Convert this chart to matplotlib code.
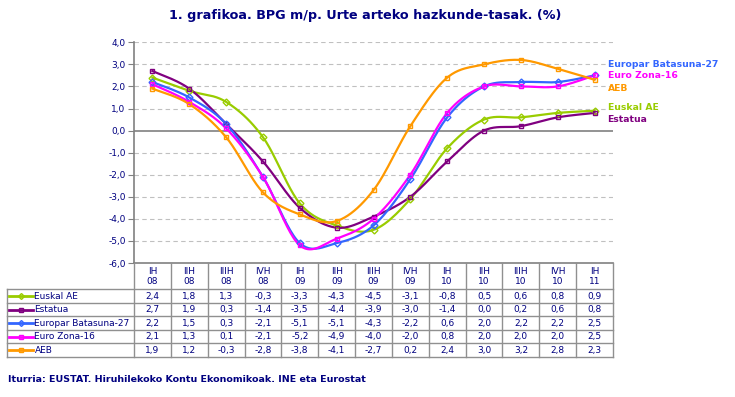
import numpy as np
import matplotlib
matplotlib.use("Agg")
import matplotlib.pyplot as plt
from matplotlib import transforms
from matplotlib.lines import Line2D

quarters = ["IH\n08", "IIH\n08", "IIIH\n08", "IVH\n08", "IH\n09", "IIH\n09", "IIIH\n09",
            "IVH\n09", "IH\n10", "IIH\n10", "IIIH\n10", "IVH\n10", "IH\n11"]
euskal = [2.4, 1.8, 1.3, -0.3, -3.3, -4.3, -4.5, -3.1, -0.8, 0.5, 0.6, 0.8, 0.9]
estatua = [2.7, 1.9, 0.3, -1.4, -3.5, -4.4, -3.9, -3.0, -1.4, 0.0, 0.2, 0.6, 0.8]
eb27 = [2.2, 1.5, 0.3, -2.1, -5.1, -5.1, -4.3, -2.2, 0.6, 2.0, 2.2, 2.2, 2.5]
ez16 = [2.1, 1.3, 0.1, -2.1, -5.2, -4.9, -4.0, -2.0, 0.8, 2.0, 2.0, 2.0, 2.5]
aeb = [1.9, 1.2, -0.3, -2.8, -3.8, -4.1, -2.7, 0.2, 2.4, 3.0, 3.2, 2.8, 2.3]

names = ["Euskal AE", "Estatua", "Europar Batasuna-27", "Euro Zona-16", "AEB"]
series = [euskal, estatua, eb27, ez16, aeb]
colors = ["#99CC00", "#800080", "#3366FF", "#FF00FF", "#FF9900"]
markers = ["D", "s", "D", "s", "s"]

NAVY = "#000080"
W, H = 735, 397


def fy(py):
    # pixel row from top -> figure fraction
    return 1 - py / H


def smooth(y, n=24):
    # excel style smoothed line (bezier through the points)
    x = np.arange(len(y), dtype=float)
    y = np.asarray(y, dtype=float)
    xs, ys = [], []
    for i in range(len(y) - 1):
        i0 = max(i - 1, 0)
        i3 = min(i + 2, len(y) - 1)
        p0 = np.array([x[i], y[i]])
        p3 = np.array([x[i + 1], y[i + 1]])
        b1 = p0 + (p3 - np.array([x[i0], y[i0]])) / 6
        b2 = p3 - (np.array([x[i3], y[i3]]) - p0) / 6
        t = np.linspace(0, 1, n)[:, None]
        pts = (1 - t) ** 3 * p0 + 3 * (1 - t) ** 2 * t * b1 + 3 * (1 - t) * t ** 2 * b2 + t ** 3 * p3
        xs.extend(pts[:, 0])
        ys.extend(pts[:, 1])
    return xs, ys


fig = plt.figure(figsize=(W / 100, H / 100), dpi=100)
fig.patch.set_facecolor("white")

ax_l, ax_r, ax_t, ax_b = 134, 613, 42.3, 263
ax = fig.add_axes([ax_l / W, 1 - ax_b / H, (ax_r - ax_l) / W, (ax_b - ax_t) / H])
n = len(quarters)
ax.set_xlim(-0.5, n - 0.5)
ax.set_ylim(-6, 4)

for v in range(-6, 5):
    if v == 0:
        ax.axhline(0, color="#808080", lw=1.2, zorder=1)
    elif v > -6:
        ax.axhline(v, color="#C0C0C0", lw=0.8, ls=(0, (4, 3)), zorder=1)

x = np.arange(n)
for name, vals, c, m in zip(names, series, colors, markers):
    sx, sy = smooth(vals)
    ax.plot(sx, sy, color=c, lw=1.6, zorder=3)
    ax.plot(x, vals, ls="none", marker=m, ms=3.5, mfc="none", mec=c, mew=1.0, zorder=4)

ax.set_yticks(range(-6, 5))
ax.set_yticklabels([("%.1f" % v).replace(".", ",") for v in range(-6, 5)],
                   color=NAVY, fontsize=6.5)
ax.set_xticks([])
ax.tick_params(axis="y", length=4, color="#808080", pad=2)
for s in ["top", "right"]:
    ax.spines[s].set_visible(False)
ax.spines["left"].set_color("#808080")
ax.spines["bottom"].set_color("#808080")
ax.spines["left"].set_linewidth(1.2)
ax.spines["bottom"].set_linewidth(1.2)

# labels at right end of the lines
side_y = [107.7, 120, 64.3, 76, 88.3]
for name, c, py in zip(names, colors, side_y):
    fig.text(607.5 / W, fy(py), name, color=c, fontsize=6.7, fontweight="bold", va="center")

# data table under the chart
bt = transforms.blended_transform_factory(ax.transData, fig.transFigure)
hdr_bot = 289.3
row_h = 13.5
tab_bot = hdr_bot + row_h * len(names)
grey = "#909090"

for k in range(n + 1):
    xe = k - 0.5
    fig.add_artist(Line2D([xe, xe], [fy(ax_b), fy(tab_bot)], transform=bt, color=grey, lw=1))
for k in range(len(names) + 1):
    py = hdr_bot + k * row_h
    fig.add_artist(Line2D([7 / W, ax_r / W], [fy(py), fy(py)], transform=fig.transFigure,
                          color=grey, lw=1))
fig.add_artist(Line2D([7 / W, 7 / W], [fy(hdr_bot), fy(tab_bot)], transform=fig.transFigure,
                      color=grey, lw=1))

for k, q in enumerate(quarters):
    fig.text(k, fy(276.5), q, transform=bt, ha="center", va="center", color=NAVY,
             fontsize=6.5, linespacing=1.05)

for r, (name, vals, c, m) in enumerate(zip(names, series, colors, markers)):
    yc = fy(hdr_bot + (r + 0.5) * row_h)
    fig.add_artist(Line2D([9 / W, 33 / W], [yc, yc], transform=fig.transFigure, color=c, lw=2))
    fig.add_artist(Line2D([21 / W], [yc], transform=fig.transFigure, ls="none", marker=m,
                          ms=3, mfc="none", mec=c, mew=1))
    fig.text(34.5 / W, yc, name, color=NAVY, fontsize=6.5, va="center")
    for k, v in enumerate(vals):
        fig.text(k, yc, ("%.1f" % v).replace(".", ","), transform=bt, ha="center",
                 va="center", color=NAVY, fontsize=6.5)

fig.text(365 / W, fy(15), "1. grafikoa. BPG m/p. Urte arteko hazkunde-tasak. (%)",
         ha="center", va="center", color=NAVY, fontsize=9.2, fontweight="bold")
fig.text(8 / W, fy(379.5), "Iturria: EUSTAT. Hiruhilekoko Kontu Ekonomikoak. INE eta Eurostat",
         ha="left", va="center", color=NAVY, fontsize=6.8, fontweight="bold")

fig.savefig("out.png", dpi=100, facecolor="white")
